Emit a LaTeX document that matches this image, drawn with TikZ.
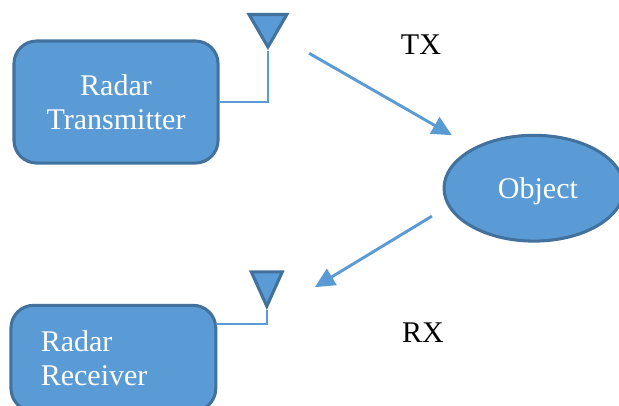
\documentclass[tikz,border=0pt]{standalone}
\usepackage{fontspec}
\setmainfont{Liberation Serif}
\usetikzlibrary{shapes.geometric, arrows.meta, positioning}
\definecolor{radarfill}{RGB}{91,155,213}
\definecolor{radarline}{RGB}{65,113,156}
\tikzset{
    radarbox/.style={rectangle,draw=radarline,fill=radarfill,line width=2.3pt,rounded corners=0.6cm,text=white,font=\fontsize{22.6}{26}\selectfont},
    antenna/.style={isosceles triangle,isosceles triangle stretches,shape border rotate=270,draw=radarline,fill=radarfill,line width=2.3pt,inner sep=0pt,anchor=apex},
    wire/.style={draw=radarfill,line width=1.6pt},
    signal/.style={draw=radarfill,line width=2.2pt,-{Triangle[width=14pt,length=15pt]}},
    label/.style={font=\fontsize{22.6}{26}\selectfont}
}

\begin{document}
\begin{tikzpicture}
    \clip (0,0) rectangle (16.38,10.72);
    % Radar blocks
    \node[radarbox,minimum width=5.4cm,minimum height=3.23cm,align=center] (transmitter) at (3.07,8.02) {Radar \\ Transmitter};
    \node[radarbox,minimum width=5.42cm,minimum height=2.8cm,text width=3.84cm,inner xsep=0.79cm,align=left] (receiver) at (3.0,1.24) {Radar \\ Receiver};
    \node[ellipse,draw=radarline,fill=radarfill,line width=2.3pt,minimum width=4.76cm,minimum height=2.8cm,text=white,font=\fontsize{22.6}{26}\selectfont] (object) at (14.13,5.74) {\raisebox{-8pt}[0pt][0pt]{\hspace{6pt}Object}};

    % Antennas
    \node[antenna,minimum width=1.0cm,minimum height=0.86cm] (txant) at (7.09,9.37) {};
    \node[antenna,minimum width=0.82cm,minimum height=0.91cm] (rxant) at (7.06,2.51) {};
    \coordinate (rxtap) at (5.71,2.14);
    \draw[wire] (txant.apex) |- (transmitter.east);
    \draw[wire] (rxant.apex) |- (rxtap);

    % Signal paths
    \coordinate (txstart) at (8.18,9.31);
    \coordinate (txend) at (11.96,7.14);
    \coordinate (rxstart) at (11.43,5.0);
    \coordinate (rxend) at (8.33,3.12);
    \draw[signal] (txstart) -- (txend);
    \draw[signal] (rxstart) -- (rxend);

    \node[label] (txlabel) at (11.14,9.55) {TX};
    \node[label] (rxlabel) at (11.19,1.91) {RX};
\end{tikzpicture}
\end{document}
